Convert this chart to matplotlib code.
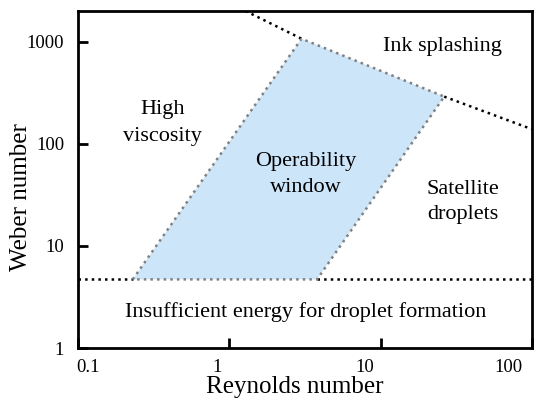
import numpy as np
import matplotlib.pyplot as plt
import matplotlib.transforms as mtransforms
from matplotlib.ticker import FixedLocator, FuncFormatter, NullLocator

plt.rcParams['font.family'] = ['Liberation Serif', 'DejaVu Serif']

# operability window corners (Re, We)
window_re = [0.23, 3.0, 26.3, 3.8]
window_we = [4.7, 1070, 290, 4.7]

# ink splashing boundary
splash_re = [1.28, 3.0, 26.3, 100]
splash_we = [2000, 1070, 290, 139]

# minimum We for droplet formation
onset_we = 4.7

x_ticks = [0.1, 1, 10, 100]
y_ticks = [1, 10, 100, 1000]

fig = plt.figure(figsize=(5.39, 4.04), dpi=100)
ax = fig.add_axes([0.1447, 0.1386, 0.8423, 0.8342])

ax.set_xscale('log')
ax.set_yscale('log')
ax.set_xlim(0.1, 100)
ax.set_ylim(1, 2000)

lw = 1.8
ax.fill(window_re, window_we, color='#cde5f9', lw=0, zorder=1)

# black boundaries outside the window
ax.plot([0.1, window_re[0]], [onset_we, onset_we], ':', color='black', lw=lw, zorder=2)
ax.plot([window_re[3], 100], [onset_we, onset_we], ':', color='black', lw=lw, zorder=2)
ax.plot(splash_re[:2], splash_we[:2], ':', color='black', lw=lw, zorder=2)
ax.plot(splash_re[2:], splash_we[2:], ':', color='black', lw=lw, zorder=2)

# window outline
ax.plot(window_re + window_re[:1], window_we + window_we[:1], ':', color='#808080', lw=lw, zorder=3)

fs = 16
ls = 1.45
ax.text(0.36, 160, 'High\nviscosity', ha='center', va='center', fontsize=fs, linespacing=1.55)
ax.text(3.18, 50, 'Operability\nwindow', ha='center', va='center', fontsize=fs, linespacing=ls)
ax.text(25.5, 890, 'Ink splashing', ha='center', va='center', fontsize=fs)
ax.text(35, 27, 'Satellite\ndroplets', ha='center', va='center', fontsize=fs, linespacing=ls)
ax.text(3.2, 2.24, 'Insufficient energy for droplet formation', ha='center', va='center', fontsize=fs)

fmt = FuncFormatter(lambda v, p: '%g' % v)
ax.xaxis.set_major_locator(FixedLocator(x_ticks))
ax.yaxis.set_major_locator(FixedLocator(y_ticks))
ax.xaxis.set_major_formatter(fmt)
ax.yaxis.set_major_formatter(fmt)
ax.xaxis.set_minor_locator(NullLocator())
ax.yaxis.set_minor_locator(NullLocator())
ax.tick_params(direction='in', length=7, width=2, labelsize=13.5)
ax.tick_params(axis='y', pad=10)
ax.tick_params(axis='x', pad=8)

# x tick labels sit a bit off their ticks in the original
x_shift = [10, -12, -16, -24]
fig.canvas.draw()
for lab, dx in zip(ax.get_xticklabels(), x_shift):
    lab.set_transform(lab.get_transform() + mtransforms.ScaledTranslation(dx / 100, 0, fig.dpi_scale_trans))

for s in ax.spines.values():
    s.set_linewidth(2)

ax.set_xlabel('Reynolds number', fontsize=18)
ax.set_ylabel('Weber number', fontsize=18)
ax.xaxis.set_label_coords(0.478, -0.083)
ax.yaxis.set_label_coords(-0.101, 0.448)

fig.savefig('out.png', dpi=100)
